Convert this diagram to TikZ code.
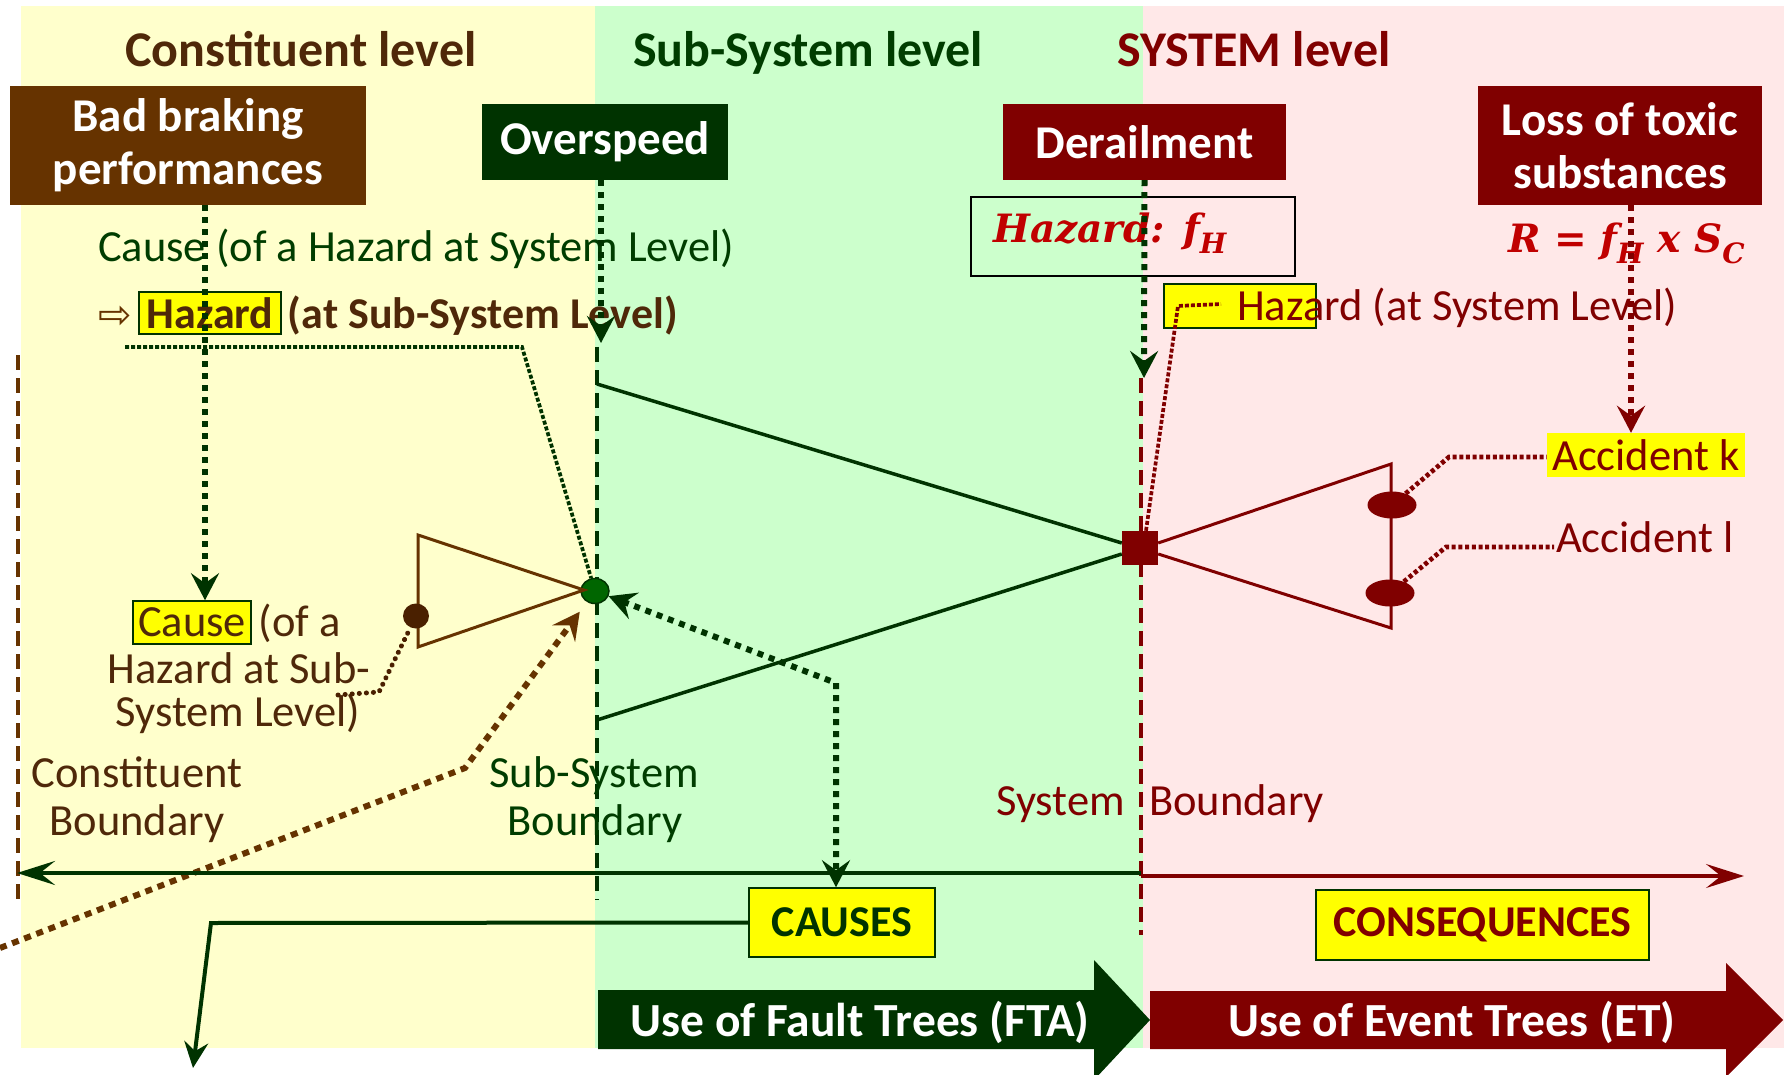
\documentclass[tikz,border=0pt]{standalone}
\usepackage{fontspec}
\setmainfont{Carlito}
\newfontfamily\symfont{DejaVu Sans}
\newfontfamily\hazfont{DejaVu Serif}
\usetikzlibrary{arrows.meta,shapes.geometric}

\definecolor{bgyel}{HTML}{FFFFCC}
\definecolor{bggrn}{HTML}{CCFFCC}
\definecolor{bgpnk}{HTML}{FFE8E8}
\definecolor{brn}{HTML}{663300}
\definecolor{brntxt}{HTML}{4F2809}
\definecolor{dotbrn}{HTML}{4A2000}
\definecolor{dgrn}{HTML}{003300}
\definecolor{grntxt}{HTML}{003D00}
\definecolor{dotgrn}{HTML}{006600}
\definecolor{dred}{HTML}{800000}
\definecolor{hred}{HTML}{C00000}
\definecolor{hilite}{HTML}{FFFF00}

\newcommand\lowsub[1]{\raisebox{-0.28em}{\fontsize{28}{28}\selectfont #1}}

\tikzset{
  ttl/.style={inner sep=0, anchor=base, font=\fontsize{50}{56}\selectfont\bfseries},
  evbox/.style={inner sep=0, align=center, text=white, font=\fontsize{47}{53}\selectfont\bfseries},
  txt/.style={inner sep=0, font=\fontsize{44.5}{52}\selectfont},
  hl/.style={inner sep=0, fill=hilite, draw=dgrn, line width=1.5},
  bigtxt/.style={inner sep=0, text=white, font=\fontsize{47.5}{53}\selectfont\bfseries},
  tipS/.tip={Stealth[length=27pt, width=28pt, inset=10pt]},
  tipL/.tip={Stealth[length=38pt, width=24pt, inset=15pt]},
  boundary/.style={line width=4.5, dash pattern=on 15pt off 8pt},
  sqdots/.style={line width=6, dash pattern=on 6pt off 6pt},
  finedots/.style={line width=3.7, dash pattern=on 4pt off 2pt},
  accdots/.style={line width=4.7, dred, dash pattern=on 4pt off 2.7pt},
  xline/.style={line width=3.5, dgrn},
}

\begin{document}
\begin{tikzpicture}[x=1pt, y=-1pt]
\useasboundingbox (0,0) rectangle (1786,1075);
\fill[white] (0,0) rectangle (1786,1075);

% level bands
\fill[bgyel] (21,6) rectangle (595,1048);
\fill[bggrn] (595,6) rectangle (1143,1048);
\fill[bgpnk] (1143,6) rectangle (1784,1048);

% level titles
\node[ttl, text=brntxt] (tconst) at (301,67) {Constituent level};
\node[ttl, text=grntxt] (tsub) at (808,67) {Sub-System level};
\node[ttl, text=dred] (tsys) at (1254,67) {SYSTEM level};

% event boxes
\node[evbox, fill=brn, minimum width=356, minimum height=119] (bad) at (188,145.5) {Bad braking\\performances};
\node[evbox, fill=dgrn, minimum width=246, minimum height=76] (over) at (605,142) {Overspeed};
\node[evbox, fill=dred, minimum width=283, minimum height=76] (derail) at (1144.5,142) {Derailment};
\node[evbox, fill=dred, minimum width=284, minimum height=119] (loss) at (1620,145.5) {Loss of toxic\\substances};

% hazard frequency and risk
\node[draw=black, line width=2, minimum width=324, minimum height=79, inner sep=0] (hzframe) at (1133,236.5) {};
\node[inner sep=0, anchor=base west, text=hred, font=\fontsize{39}{42}\selectfont\hazfont\bfseries\itshape] (hzf) at (993,243) {Hazard: f\lowsub{H}};
\node[inner sep=0, anchor=base west, text=hred, font=\fontsize{39}{42}\selectfont\hazfont\bfseries\itshape] (risk) at (1508,253) {R = f\lowsub{H} x S\lowsub{C}};

% boundary lines
\coordinate (cbtop) at (18,355);  \coordinate (cbbot) at (18,900);
\coordinate (sbtop) at (597,347); \coordinate (sbbot) at (597,900);
\coordinate (ybtop) at (1141,378); \coordinate (ybbot) at (1141,935);
\draw[boundary, brn] (cbtop) -- (cbbot);
\draw[boundary, dgrn] (sbtop) -- (sbbot);
\draw[boundary, dred] (ybtop) -- (ybbot);

% hazard labels
\node[txt, text=grntxt, anchor=base west] (causesys) at (98,262) {Cause (of a Hazard at System Level)};
\node[hl, minimum width=142, minimum height=42, text=brntxt, font=\fontsize{44}{52}\selectfont\bfseries] (hzsub) at (210,313) {Hazard};
\node[txt, text=brntxt, anchor=base west, font=\fontsize{44}{52}\selectfont\bfseries] (hzsubr) at ([xshift=6pt]hzsub.base east) {(at Sub-System Level)};
\node[inner sep=0, text=brn, anchor=base east, font=\fontsize{40}{44}\selectfont\symfont] (hzarrow) at ([xshift=-6pt]hzsub.base west) {⇨};

\node[hl, minimum width=118, minimum height=43, text=brntxt, font=\fontsize{44.5}{52}\selectfont] (causebox) at (192,622.5) {Cause};
\node[txt, text=brntxt, anchor=base west] (causeofa) at ([xshift=7pt]causebox.base east) {(of a};
\node[txt, text=brntxt, anchor=base] (causel2) at (239,683) {Hazard at Sub-};
\node[txt, text=brntxt, anchor=base] (causel3) at (238,726) {System Level)};

\node[hl, minimum width=152, minimum height=44] (hzsysbox) at (1240,306) {};
\node[txt, text=dred, anchor=base west] (hzsys) at (1237,320) {Hazard (at System Level)};

\node[inner sep=0, fill=hilite, minimum width=198, minimum height=44, text=dred, font=\fontsize{44.5}{52}\selectfont] (acckbox) at (1646,455) {Accident k};
\node[txt, text=dred, anchor=base west] (accltxt) at (1556,552) {Accident l};

% boundary names
\node[txt, text=brntxt, anchor=base] (cbn1) at (137,787) {Constituent};
\node[txt, text=brntxt, anchor=base] (cbn2) at (137,835) {Boundary};
\node[txt, text=grntxt, anchor=base] (sbn1) at (594,787) {Sub-System};
\node[txt, text=grntxt, anchor=base] (sbn2) at (595,835) {Boundary};
\node[txt, text=dred, anchor=base east] (ybn1) at (1125,815) {System};
\node[txt, text=dred, anchor=base west] (ybn2) at (1149,815) {Boundary};

% causes / consequences
\node[hl, minimum width=186, minimum height=69, text=dgrn, font=\fontsize{44}{48}\selectfont\bfseries] (causes) at (842,922.5) {CAUSES};
\node[hl, minimum width=333, minimum height=70, text=dred, font=\fontsize{44}{48}\selectfont\bfseries] (conseq) at (1482.5,925) {CONSEQUENCES};

% bow-tie
\node[ellipse, fill=dotgrn, draw=dgrn, line width=1.5, minimum width=28, minimum height=25, inner sep=0] (gdot) at (595,591) {};
\node[rectangle, fill=dred, minimum width=36, minimum height=34, inner sep=0] (hsq) at (1140,548) {};
\coordinate (btop) at (418,535); \coordinate (bbot) at (418,647); \coordinate (bapex) at (584,590);
\draw[line width=3, brn] (btop) -- (bapex) -- (bbot) -- cycle;
\node[ellipse, fill=dotbrn, minimum width=26, minimum height=25, inner sep=0] (bdot) at (416,616) {};

\coordinate (sstop) at (597,384); \coordinate (ssbot) at (597,720);
\draw[xline] (sstop) -- ([yshift=5pt]hsq.west);
\draw[xline] (ssbot) -- ([yshift=-6pt]hsq.west);
\coordinate (rtop) at (1391,464); \coordinate (rbot) at (1391,628);
\draw[line width=3, dred] ([yshift=5pt]hsq.east) -- (rtop) -- (rbot) -- ([yshift=-6pt]hsq.east);
\node[ellipse, fill=dred, minimum width=49, minimum height=27, inner sep=0] (acck) at (1392,505) {};
\node[ellipse, fill=dred, minimum width=49, minimum height=27, inner sep=0] (accl) at (1390,593) {};

% dotted connectors
\coordinate (ssin) at (601,343);
\coordinate (sysin) at (1144,378);
\draw[sqdots, dgrn, -tipS] ([xshift=17pt]bad.south) -- ([xshift=13pt]causebox.north);
\draw[sqdots, dgrn, -tipS] ([xshift=-4pt]over.south) -- (ssin);
\draw[sqdots, dgrn, -tipS] (derail.south) -- (sysin);
\draw[sqdots, dred, -tipS] ([xshift=11pt]loss.south) -- ([xshift=-15pt]acckbox.north);

\coordinate (hzs1) at (125,347); \coordinate (hzs2) at (522,347);
\draw[finedots, dgrn] (hzs1) -- (hzs2) -- (gdot);
\coordinate (hzy1) at (1178,306); \coordinate (hzy2) at (1221,304);
\draw[finedots, dred] ([xshift=6pt]hsq.north) -- (hzy1) -- (hzy2);

\coordinate (ak1) at (1449,457);
\draw[accdots] (acck) -- (ak1) -- (acckbox.west |- ak1);
\coordinate (al1) at (1446,547); \coordinate (al2) at (1554,547);
\draw[accdots] (accl) -- (al1) -- (al2);

\coordinate (cs1) at (338,695); \coordinate (cs2) at (379,692);
\draw[line width=5, dotbrn, line cap=round, dash pattern=on 0.1pt off 7pt] (cs1) -- (cs2) -- (bdot);

\coordinate (bl0) at (0,948); \coordinate (bl1) at (465,768);
\draw[line width=6, brn, dash pattern=on 7pt off 6pt, -tipS, shorten >=12pt] (bl0) -- (bl1) -- (gdot);

\coordinate (cb) at (836,683);
\draw[sqdots, dgrn, tipS-tipS] (gdot) -- (cb) -- (cb |- causes.north);

% horizontal cause/consequence axis
\coordinate (axl) at (17,873); \coordinate (axm) at (1141,873);
\coordinate (axm2) at (1141,876); \coordinate (axr) at (1744,876);
\draw[line width=4.5, dgrn, -tipL] (axm) -- (axl);
\draw[line width=3.5, dred, -tipL] (axm2) -- (axr);

% causes feedback
\coordinate (cf1) at (211,923); \coordinate (cf2) at (193,1068);
\draw[line width=4, dgrn, -{Stealth[length=26pt, width=24pt, inset=9pt]}] (causes.west) -- (cf1) -- (cf2);

% method arrows
\fill[dgrn] (598,990) -- (1094,990) -- (1094,960) -- (1150,1020) -- (1094,1080) -- (1094,1049) -- (598,1049) -- cycle;
\fill[dred] (1150,991) -- (1726,991) -- (1726,963) -- (1783,1020) -- (1726,1077) -- (1726,1049) -- (1150,1049) -- cycle;
\node[bigtxt] (fta) at (860,1022) {Use of Fault Trees (FTA)};
\node[bigtxt] (eta) at (1452,1022) {Use of Event Trees (ET)};
\end{tikzpicture}
\end{document}
